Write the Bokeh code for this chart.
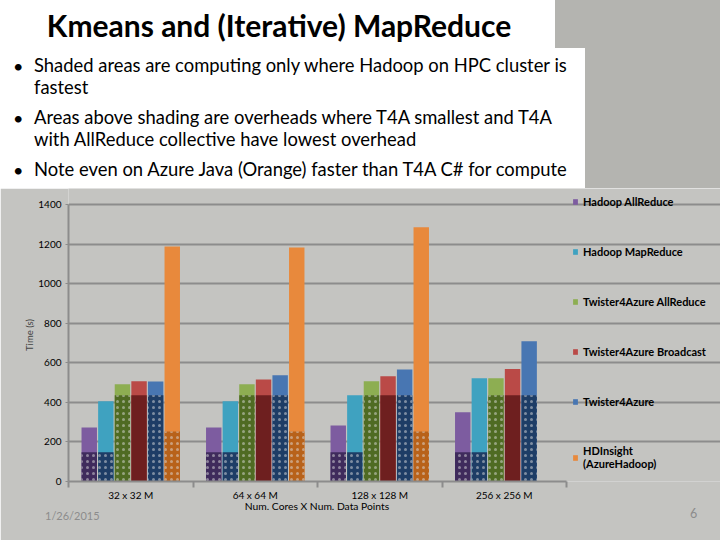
from bokeh.plotting import figure
from bokeh.models import Div, Legend, LegendItem, FixedTicker, Range1d, ColumnDataSource
from bokeh.layouts import column
from bokeh.embed import file_html
from bokeh.resources import INLINE

# ---------------- data ----------------
categories = ["32 x 32 M", "64 x 64 M", "128 x 128 M", "256 x 256 M"]
series_names = ["Hadoop AllReduce", "Hadoop MapReduce", "Twister4Azure AllReduce",
                "Twister4Azure Broadcast", "Twister4Azure", "HDInsight\n(AzureHadoop)"]

hadoop_allreduce = [273, 273, 283, 350]
hadoop_mapreduce = [406, 406, 436, 522]
t4a_allreduce = [492, 492, 507, 522]
t4a_broadcast = [507, 515, 532, 568]
t4a = [505, 537, 566, 709]
hdinsight = [1188, 1183, 1285, None]

# shaded (compute only) portion
hadoop_allreduce_compute = [148, 148, 148, 148]
hadoop_mapreduce_compute = [148, 148, 148, 148]
t4a_allreduce_compute = [436, 436, 436, 436]
t4a_broadcast_compute = [436, 436, 436, 436]
t4a_compute = [436, 436, 436, 436]
hdinsight_compute = [253, 253, 253, None]

y_ticks = [0, 200, 400, 600, 800, 1000, 1200, 1400]
x_title = "Num. Cores X Num. Data Points"
y_title = "Time (s)"

totals = [hadoop_allreduce, hadoop_mapreduce, t4a_allreduce, t4a_broadcast, t4a, hdinsight]
computes = [hadoop_allreduce_compute, hadoop_mapreduce_compute, t4a_allreduce_compute,
            t4a_broadcast_compute, t4a_compute, hdinsight_compute]

top_colors = ["#7D5CA0", "#3FA2C0", "#8DAE52", "#BA4A47", "#4876B2", "#E8893C"]
shade_colors = ["#3F2B5C", "#1E3D66", "#4F6B23", "#6E1F1F", "#1E3D66", "#B8621A"]
shade_hatch = ["dot", "dot", "dot", None, "dot", "dot"]

FONT = "Lato"
BG = "#C4C4C1"

# ---------------- header (title + bullets + footer texts) ----------------
html = f"""
<div style="position:relative;width:720px;height:188px;background:#B4B4B0;font-family:{FONT};color:#000;">
 <div style="position:absolute;left:0;top:0;width:555px;height:48px;background:#FFFFFF;"></div>
 <div style="position:absolute;left:0;top:48px;width:585px;height:140px;background:#FFFFFF;"></div>
 <div style="position:absolute;left:0;top:6px;width:558px;height:38px;line-height:38px;text-align:center;font-weight:bold;font-size:30px;white-space:nowrap;">Kmeans and (Iterative) MapReduce</div>
 <div style="position:absolute;left:13px;top:55px;font-size:18px;line-height:22px;">&bull;</div>
 <div style="position:absolute;left:34px;top:55px;font-size:18.4px;line-height:21.5px;white-space:nowrap;">Shaded areas are computing only where Hadoop on HPC cluster is<br>fastest</div>
 <div style="position:absolute;left:13px;top:107px;font-size:18px;line-height:22px;">&bull;</div>
 <div style="position:absolute;left:34px;top:107px;font-size:18.4px;line-height:21.5px;white-space:nowrap;">Areas above shading are overheads where T4A smallest and T4A<br>with AllReduce collective have lowest overhead</div>
 <div style="position:absolute;left:13px;top:159px;font-size:18px;line-height:22px;">&bull;</div>
 <div style="position:absolute;left:34px;top:159px;font-size:18.4px;line-height:21.5px;white-space:nowrap;">Note even on Azure Java (Orange) faster than T4A C# for compute</div>
 <div style="position:absolute;left:167px;top:497px;width:300px;text-align:center;z-index:1000;font-size:10.3px;line-height:18px;color:#000;white-space:nowrap;">{x_title}</div>
 <div style="position:absolute;left:45px;top:507px;z-index:1000;font-size:11px;line-height:18px;color:#8C8C8C;white-space:nowrap;">1/26/2015</div>
 <div style="position:absolute;left:690px;top:505px;z-index:1000;font-size:12.5px;line-height:18px;color:#8C8C8C;">6</div>
</div>
"""
header = Div(text=html, width=720, height=188, margin=(0, 0, 0, 0),
             styles={"z-index": "1000", "overflow": "visible"})

# ---------------- chart ----------------
# frame spans page x 68..720 and y 188..481; the data area 0..4 / 0..1400 sits in 68..566 / 204..481
X_END = 4 * (720 - 68) / (566 - 68)
Y_END = 1400 * (481 - 188) / (481 - 204)

p = figure(width=720, height=352, output_backend="svg", toolbar_location=None,
           x_range=Range1d(0, X_END), y_range=Range1d(0, Y_END),
           min_border_left=68, min_border_right=0, min_border_top=0, min_border_bottom=59,
           background_fill_color=BG, border_fill_color=BG,
           outline_line_color=None, margin=(0, 0, 0, 0))

n = len(series_names)
bw = 0.8 / n
items = []
for i in range(n):
    xs, tops, comps = [], [], []
    for j in range(len(categories)):
        if totals[i][j] is None:
            continue
        xs.append(j + 0.5 + (i - (n - 1) / 2) * bw)
        tops.append(totals[i][j])
        comps.append(computes[i][j])
    src = ColumnDataSource(dict(x=xs, total=tops, compute=comps))
    r_total = p.vbar(x="x", top="total", bottom=0, width=bw * 0.93, source=src,
                     fill_color=top_colors[i], line_color=None)
    kw = {}
    if shade_hatch[i]:
        kw = dict(hatch_pattern=shade_hatch[i], hatch_color="#DDDDDD", hatch_alpha=0.5,
                  hatch_scale=6, hatch_weight=0.4)
    p.vbar(x="x", top="compute", bottom=0, width=bw * 0.93, source=src,
           fill_color=shade_colors[i], line_color=None, **kw)
    items.append(LegendItem(label=series_names[i], renderers=[r_total]))

legend = Legend(items=items, location=(504, 11), glyph_width=6, glyph_height=7,
                label_text_font=FONT, label_text_font_size="11px",
                label_text_font_style="bold", label_text_color="#000000",
                label_height=14, label_standoff=5, spacing=36, padding=0, margin=0,
                background_fill_alpha=0, border_line_color=None)
p.add_layout(legend)

# axes
p.xgrid.grid_line_color = None
p.ygrid.grid_line_color = "#8C8C8C"
p.ygrid.grid_line_width = 2
p.ygrid.bounds = (0, 4.03)

p.yaxis.ticker = FixedTicker(ticks=y_ticks)
p.yaxis.bounds = (0, 1400)
p.yaxis.axis_line_color = "#8C8C8C"
p.yaxis.axis_line_width = 2
p.yaxis.major_tick_line_color = "#8C8C8C"
p.yaxis.major_tick_out = 3
p.yaxis.major_tick_in = 0
p.yaxis.minor_tick_line_color = None
p.yaxis.major_label_text_font = FONT
p.yaxis.major_label_text_font_size = "10px"
p.yaxis.major_label_text_color = "#000000"
p.yaxis.major_label_standoff = 4
p.yaxis.axis_label = y_title
p.yaxis.axis_label_text_font = FONT
p.yaxis.axis_label_text_font_size = "9.5px"
p.yaxis.axis_label_text_font_style = "normal"
p.yaxis.axis_label_standoff = 0

centers = [j + 0.5 for j in range(len(categories))]
bounds = [float(j) for j in range(len(categories) + 1)]
p.xaxis.ticker = FixedTicker(ticks=centers, minor_ticks=bounds)
p.xaxis.bounds = (0, 4)
p.xaxis.major_label_overrides = {c: lab for c, lab in zip(centers, categories)}
p.xaxis.axis_line_color = "#8C8C8C"
p.xaxis.axis_line_width = 2
p.xaxis.major_tick_line_color = None
p.xaxis.major_tick_out = 0
p.xaxis.major_tick_in = 0
p.xaxis.minor_tick_line_color = "#8C8C8C"
p.xaxis.minor_tick_line_width = 2
p.xaxis.minor_tick_out = 6
p.xaxis.minor_tick_in = 0
p.xaxis.major_label_text_font = FONT
p.xaxis.major_label_text_font_size = "10px"
p.xaxis.major_label_text_color = "#000000"
p.xaxis.major_label_standoff = 1

layout = column(header, p, spacing=0)
open("out.html", "w").write(file_html(layout, INLINE))
